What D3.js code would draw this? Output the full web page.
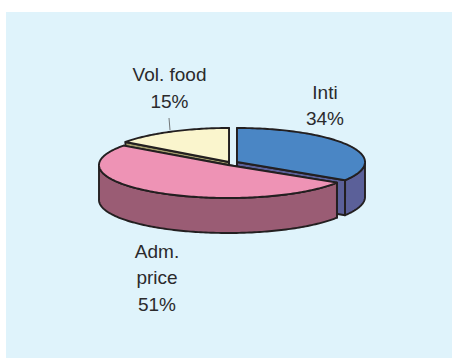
<!DOCTYPE html>
<html><head><meta charset="utf-8">
<script src="https://cdnjs.cloudflare.com/ajax/libs/d3/7.8.5/d3.min.js"></script>
<style>html,body{margin:0;padding:0;background:#fff}svg{display:block}text{font-family:"Liberation Sans",Arial,sans-serif;font-size:19px;fill:#2b2a2c;text-anchor:middle}</style>
</head><body><div id="c"></div>
<script>
const categories = ["Inti", "Adm. price", "Vol. food"];
const values = [34, 51, 15];
const topColors = ["#4a86c5", "#ee93b5", "#faf5cd"];
const sideColors = ["#5b6099", "#9a5c74", "#a09a6a"];
const centers = [[237, 162], [228, 165], [229, 162]];
const radii = [[128, 34], [129, 33], [128, 34]];
const labels = [
  {lines: ["Inti", "34%"], x: 325, y: 98.5},
  {lines: ["Adm.", "price", "51%"], x: 157, y: 257.5},
  {lines: ["Vol. food", "15%"], x: 169.5, y: 81}
];
const depth = 35;

const svg = d3.select("#c").append("svg").attr("width", 452).attr("height", 358);
svg.append("rect").attr("x", 6).attr("y", 12).attr("width", 446).attr("height", 346).attr("fill", "#dff3fb");

const slices = d3.pie().value(d => d).sort(null)(values);
const line = d3.line();
const stroke = "#231f20";

function pt(i, a, dy = 0) {
  return [centers[i][0] + radii[i][0] * Math.sin(a), centers[i][1] - radii[i][1] * Math.cos(a) + dy];
}
function arcPts(i, a0, a1, dy = 0) {
  const n = Math.max(2, Math.ceil(Math.abs(a1 - a0) / 0.02));
  return d3.range(n + 1).map(k => pt(i, a0 + (a1 - a0) * k / n, dy));
}

[2, 0, 1].forEach(i => {
  const s = slices[i];
  const g = svg.append("g").attr("stroke", stroke).attr("stroke-width", 1.9).attr("stroke-linejoin", "round");
  const c = centers[i];
  [s.startAngle, s.endAngle].forEach(a => {
    const e = pt(i, a);
    g.append("path").attr("fill", sideColors[i])
      .attr("d", line([c, e, [e[0], e[1] + depth], [c[0], c[1] + depth]]) + "Z");
  });
  const lo = Math.max(s.startAngle, Math.PI / 2), hi = Math.min(s.endAngle, Math.PI * 1.5);
  if (hi > lo) {
    const pts = arcPts(i, lo, hi).concat(arcPts(i, hi, lo, depth));
    g.append("path").attr("fill", sideColors[i]).attr("d", line(pts) + "Z");
  }
  g.append("path").attr("fill", topColors[i])
    .attr("d", line([c].concat(arcPts(i, s.startAngle, s.endAngle))) + "Z");
});

svg.append("path").attr("d", line([[169, 118], [170, 130]])).attr("stroke", "#555").attr("stroke-width", 0.8).attr("fill", "none");

labels.forEach(l => {
  const t = svg.append("text");
  l.lines.forEach((ln, k) => t.append("tspan").attr("x", l.x).attr("y", l.y + k * 26.5).text(ln));
});
</script></body></html>
